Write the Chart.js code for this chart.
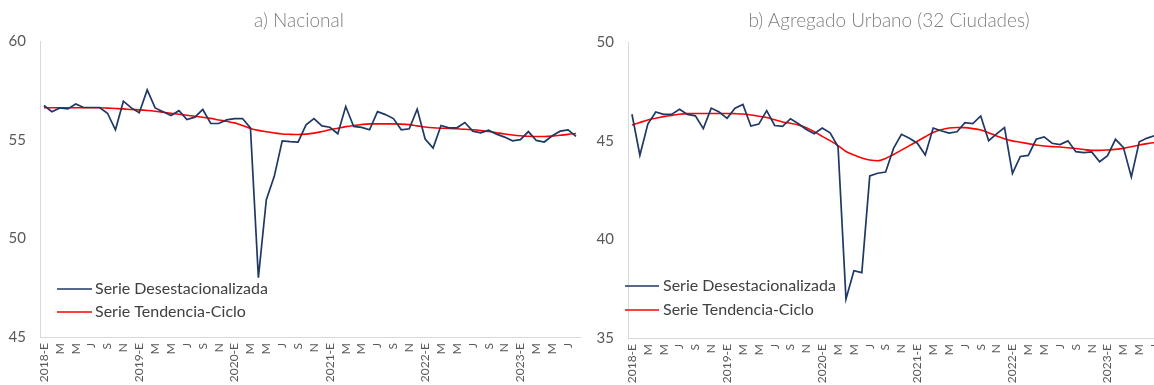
<!DOCTYPE html>
<html lang="es">
<head>
<meta charset="utf-8">
<title>Tasa de ocupación</title>
<script src="https://cdn.jsdelivr.net/npm/chart.js@4.4.1/dist/chart.umd.min.js"></script>
<style>
  html, body { margin: 0; padding: 0; background: #fff; width: 1154px; height: 385px; overflow: hidden; }
  .panel-title { position: absolute; top: 8px; font-family: Lato, "Open Sans", sans-serif; font-weight: 300;
                 font-size: 19px; color: #7f7f7f; white-space: nowrap; transform: translateX(-50%); line-height: 24px; }
  #leftBox { position: absolute; left: 0; top: 0; width: 590px; height: 385px; }
  #rightBox { position: absolute; left: 585px; top: 0; width: 569px; height: 385px; overflow: hidden; }
  #rightInner { position: absolute; left: 0; top: 0; width: 582px; height: 385px; }
</style>
</head>
<body>
<div id="leftBox"><canvas id="chartNacional"></canvas></div>
<div id="rightBox"><div id="rightInner"><canvas id="chartUrbano"></canvas></div></div>
<div class="panel-title" style="left:299px">a) Nacional</div>
<div class="panel-title" style="left:889px">b) Agregado Urbano (32 Ciudades)</div>
<script>
// Periods: January 2018 to August 2023, monthly
const monthInitials = ['E', 'F', 'M', 'A', 'M', 'J', 'J', 'A', 'S', 'O', 'N', 'D'];
const years = [2018, 2019, 2020, 2021, 2022, 2023];
const monthsInLastYear = 8;

const seriesNames = ['Serie Desestacionalizada', 'Serie Tendencia-Ciclo'];

// a) Nacional
const nacionalDesest = [
  56.73, 56.42, 56.61, 56.56, 56.81, 56.63, 56.63, 56.63, 56.34, 55.50, 56.95, 56.61,
  56.36, 57.52, 56.61, 56.42, 56.22, 56.47, 56.02, 56.14, 56.53, 55.82, 55.82, 56.00,
  56.07, 56.07, 55.60, 48.01, 51.96, 53.14, 54.94, 54.90, 54.88, 55.75, 56.07, 55.70,
  55.63, 55.30, 56.68, 55.67, 55.62, 55.50, 56.42, 56.27, 56.07, 55.50, 55.55, 56.55,
  55.03, 54.57, 55.72, 55.60, 55.60, 55.87, 55.43, 55.35, 55.48, 55.28, 55.13, 54.94,
  55.00, 55.41, 54.96, 54.88, 55.20, 55.43, 55.50, 55.17
];
const nacionalTendencia = [
  56.62, 56.62, 56.62, 56.62, 56.62, 56.62, 56.62, 56.62, 56.60, 56.58, 56.56, 56.53,
  56.51, 56.48, 56.44, 56.39, 56.34, 56.29, 56.24, 56.19, 56.14, 56.08, 56.00, 55.93,
  55.85, 55.72, 55.57, 55.47, 55.40, 55.34, 55.29, 55.27, 55.26, 55.28, 55.33, 55.41,
  55.50, 55.58, 55.66, 55.72, 55.77, 55.80, 55.80, 55.80, 55.80, 55.79, 55.76, 55.70,
  55.64, 55.60, 55.58, 55.57, 55.55, 55.53, 55.50, 55.46, 55.41, 55.35, 55.29, 55.24,
  55.20, 55.17, 55.16, 55.16, 55.18, 55.22, 55.27, 55.31
];
const nacionalTicks = [45, 50, 55, 60];

// b) Agregado Urbano (32 Ciudades)
const urbanoDesest = [
  46.34, 44.26, 45.84, 46.45, 46.33, 46.33, 46.59, 46.33, 46.26, 45.61, 46.65, 46.45,
  46.13, 46.65, 46.84, 45.74, 45.84, 46.52, 45.77, 45.72, 46.11, 45.86, 45.57, 45.35,
  45.64, 45.40, 44.69, 36.97, 38.41, 38.31, 43.21, 43.35, 43.41, 44.61, 45.32, 45.12,
  44.87, 44.27, 45.64, 45.50, 45.38, 45.45, 45.91, 45.86, 46.25, 45.00, 45.34, 45.66,
  43.34, 44.20, 44.25, 45.07, 45.19, 44.87, 44.80, 44.99, 44.44, 44.39, 44.43, 43.93,
  44.24, 45.07, 44.66, 43.16, 44.94, 45.13, 45.26, null
];
const urbanoTendencia = [
  45.79, 45.92, 46.05, 46.14, 46.22, 46.28, 46.34, 46.37, 46.38, 46.38, 46.38, 46.38,
  46.38, 46.37, 46.35, 46.30, 46.24, 46.17, 46.06, 45.95, 45.88, 45.80, 45.65, 45.45,
  45.22, 45.00, 44.75, 44.45, 44.27, 44.12, 44.02, 43.98, 44.10, 44.30, 44.52, 44.75,
  44.97, 45.20, 45.41, 45.55, 45.64, 45.67, 45.66, 45.61, 45.54, 45.40, 45.24, 45.10,
  44.99, 44.92, 44.85, 44.78, 44.73, 44.70, 44.68, 44.64, 44.60, 44.55, 44.51, 44.51,
  44.53, 44.56, 44.61, 44.69, 44.78, 44.85, 44.91, null
];
const urbanoTicks = [35, 40, 45, 50];

const periods = [];
years.forEach((y, yi) => {
  monthInitials.forEach((m, k) => {
    if (yi < years.length - 1 || k < monthsInLastYear) periods.push(k === 0 ? y + '-' + m : m);
  });
});

const COLOR_DESEST = '#1f3864';
const COLOR_TEND = '#ff0000';
const AXIS_GRAY = '#d9d9d9';
const TEXT_GRAY = '#595959';
const FONT = 'Lato, "Open Sans", sans-serif';

// Legend drawn inside the plot, lower-left, Excel style
const insideLegend = {
  id: 'insideLegend',
  afterDraw(chart, args, opts) {
    const ctx = chart.ctx;
    ctx.save();
    ctx.font = '16px ' + FONT;
    ctx.textBaseline = 'middle';
    chart.data.datasets.forEach((ds, i) => {
      const y = opts.y + i * opts.rowGap;
      ctx.strokeStyle = ds.borderColor;
      ctx.lineWidth = ds.borderWidth;
      ctx.beginPath();
      ctx.moveTo(opts.x, y);
      ctx.lineTo(opts.x + opts.lineLen, y);
      ctx.stroke();
      ctx.fillStyle = '#404040';
      ctx.fillText(ds.label, opts.x + opts.lineLen + opts.textGap, y);
    });
    ctx.restore();
  }
};

function buildChart(canvasId, desest, tend, ticks, yWidth, padRight, top, legendPos) {
  return new Chart(document.getElementById(canvasId), {
    type: 'line',
    data: {
      labels: periods,
      datasets: [
        { label: seriesNames[0], data: desest, borderColor: COLOR_DESEST, borderWidth: 1.7,
          pointRadius: 0, tension: 0, fill: false, spanGaps: false },
        { label: seriesNames[1], data: tend, borderColor: COLOR_TEND, borderWidth: 1.6,
          pointRadius: 0, tension: 0.4, cubicInterpolationMode: 'monotone', fill: false }
      ]
    },
    options: {
      responsive: true,
      maintainAspectRatio: false,
      animation: false,
      events: [],
      layout: { padding: { top: top, right: padRight, bottom: 0, left: 0 } },
      plugins: {
        legend: { display: false },
        tooltip: { enabled: false },
        title: { display: false },
        insideLegend: legendPos
      },
      scales: {
        x: {
          type: 'category',
          offset: true,
          grid: { display: false, drawTicks: false },
          border: { display: true, color: AXIS_GRAY, width: 1 },
          ticks: {
            autoSkip: false, maxRotation: 90, minRotation: 90, padding: 6,
            color: TEXT_GRAY, font: { family: FONT, size: 12 },
            callback: function (value, index) { return index % 2 === 0 ? this.getLabelForValue(value) : ''; }
          },
          afterFit(scale) { scale.height = 385 - (top + 296); scale.paddingLeft = 0; scale.paddingRight = 0; }
        },
        y: {
          min: ticks[0], max: ticks[ticks.length - 1],
          afterBuildTicks(scale) { scale.ticks = ticks.map(v => ({ value: v })); },
          grid: { display: false, drawTicks: false },
          border: { display: true, color: AXIS_GRAY, width: 1 },
          ticks: { padding: 14, color: TEXT_GRAY, font: { family: FONT, size: 15 } },
          afterFit(scale) { scale.width = yWidth; scale.paddingTop = 0; scale.paddingBottom = 0; }
        }
      }
    },
    plugins: [insideLegend]
  });
}

buildChart('chartNacional', nacionalDesest, nacionalTendencia, nacionalTicks, 40, 10, 41,
  { x: 57, y: 289, rowGap: 23, lineLen: 35, textGap: 3 });
buildChart('chartUrbano', urbanoDesest, urbanoTendencia, urbanoTicks, 43, 0, 42,
  { x: 40, y: 286, rowGap: 24, lineLen: 34, textGap: 4 });
</script>
</body>
</html>
